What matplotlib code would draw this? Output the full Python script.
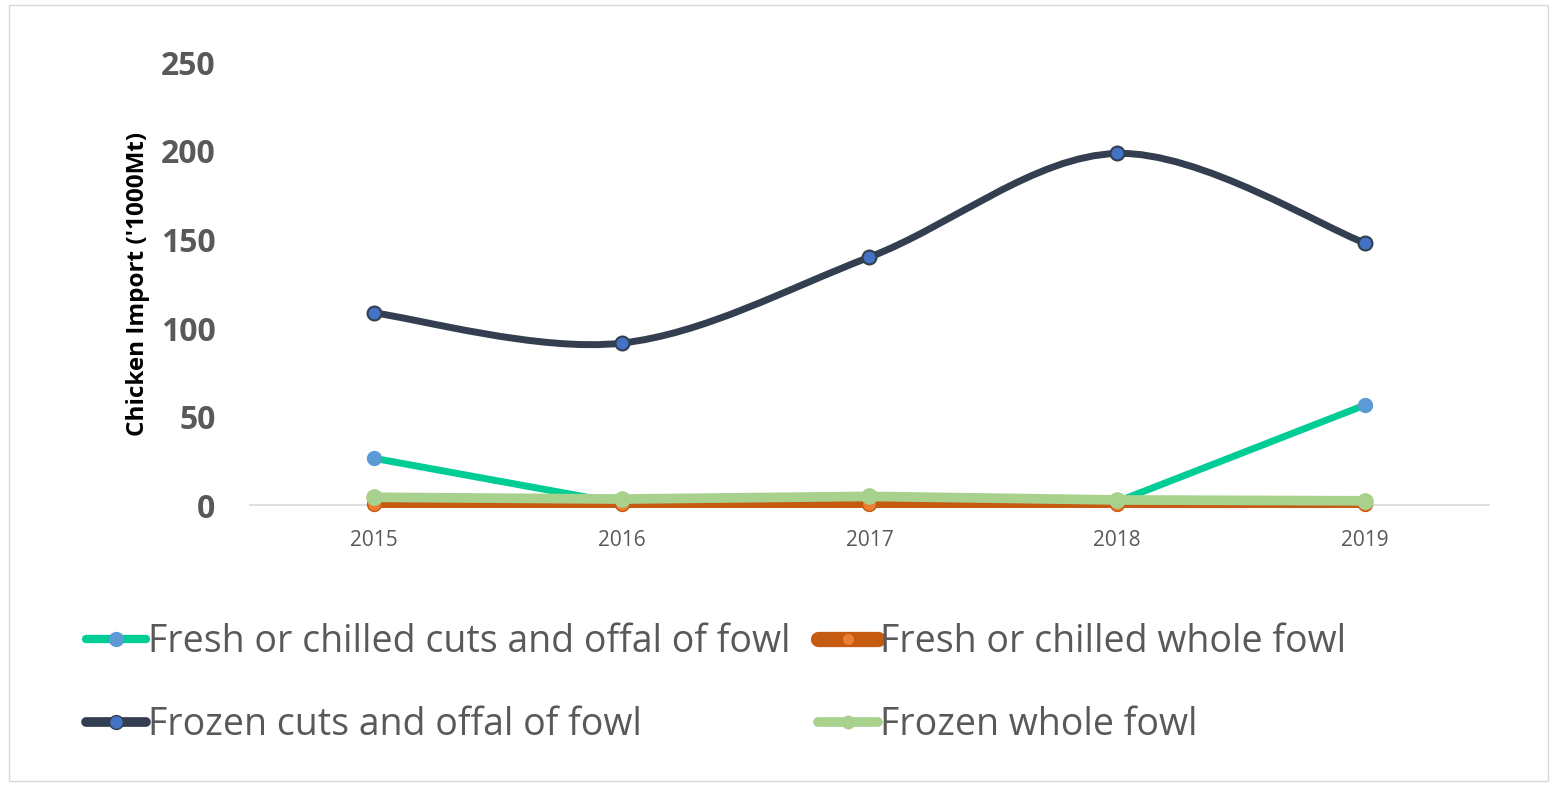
import matplotlib.pyplot as plt
from matplotlib.path import Path
from matplotlib.patches import PathPatch, Rectangle
from matplotlib.lines import Line2D

years = [2015, 2016, 2017, 2018, 2019]
fresh_cuts = [26.5, 1.0, 2.0, 2.0, 56.5]
fresh_whole = [0.5, 0.5, 0.5, 0.5, 0.5]
frozen_cuts = [108.5, 91.5, 140.0, 198.5, 148.0]
frozen_whole = [4.5, 3.5, 5.0, 3.0, 2.5]

label_fresh_cuts = "Fresh or chilled cuts and offal of fowl"
label_fresh_whole = "Fresh or chilled whole fowl"
label_frozen_cuts = "Frozen cuts and offal of fowl"
label_frozen_whole = "Frozen whole fowl"

plt.rcParams["font.family"] = ["Open Sans", "DejaVu Sans"]
grey = "#595959"

fig = plt.figure(figsize=(15.54, 7.87), dpi=100)
fig.patches.append(Rectangle((0.006, 0.008), 0.99, 0.986, transform=fig.transFigure,
                             fill=False, edgecolor="#d9d9d9", linewidth=1))
ax = fig.add_axes([0.161, 0.358, 0.797, 0.563])
x = list(range(len(years)))


def smooth_path(xs, ys):
    # cubic bezier through each point (Catmull-Rom style tangents)
    verts = [(xs[0], ys[0])]
    codes = [Path.MOVETO]
    n = len(xs)
    for i in range(n - 1):
        x0, y0 = (xs[i - 1], ys[i - 1]) if i > 0 else (xs[i], ys[i])
        x1, y1 = xs[i], ys[i]
        x2, y2 = xs[i + 1], ys[i + 1]
        x3, y3 = (xs[i + 2], ys[i + 2]) if i + 2 < n else (x2, y2)
        c1 = (x1 + (x2 - x0) / 6, y1 + (y2 - y0) / 6)
        c2 = (x2 - (x3 - x1) / 6, y2 - (y3 - y1) / 6)
        verts += [c1, c2, (x2, y2)]
        codes += [Path.CURVE4] * 3
    return Path(verts, codes)


ax.plot(x, fresh_cuts, color="#00cc96", lw=5, marker="o", ms=10,
        mfc="#5b9bd5", mec="#5b9bd5", clip_on=False, zorder=3)
ax.plot(x, fresh_whole, color="#c55a11", lw=5, marker="o", ms=10,
        mfc="#ed7d31", mec="#c55a11", clip_on=False, zorder=3)
ax.add_patch(PathPatch(smooth_path(x, frozen_cuts), fill=False,
                       edgecolor="#333f50", lw=5, zorder=3))
ax.plot(x, frozen_cuts, ls="none", marker="o", ms=10,
        mfc="#4472c4", mec="#333f50", mew=1.5, zorder=4)
ax.plot(x, frozen_whole, color="#a9d18e", lw=7, marker="o", ms=11,
        mfc="#a9d18e", mec="#a9d18e", clip_on=False, zorder=5)

ax.set_xlim(-0.5, len(years) - 0.5)
ax.set_ylim(0, 250)
ax.set_yticks([0, 50, 100, 150, 200, 250])
ax.set_xticks(x)
ax.set_xticklabels([str(y) for y in years])
ax.tick_params(axis="y", length=0, pad=25, labelsize=23, labelcolor=grey)
ax.tick_params(axis="x", length=0, pad=18, labelsize=15, labelcolor=grey)
for t in ax.get_yticklabels():
    t.set_fontweight("bold")
for s in ["top", "right", "left"]:
    ax.spines[s].set_visible(False)
ax.spines["bottom"].set_color("#d9d9d9")
ax.spines["bottom"].set_linewidth(1.2)
ax.set_ylabel("Chicken Import ('1000Mt)", fontsize=17.5, fontweight="bold",
              color="black", labelpad=8)

handles = [
    Line2D([], [], color="#00cc96", lw=6, marker="o", ms=10, mfc="#5b9bd5", mec="#5b9bd5",
           solid_capstyle="round"),
    Line2D([], [], color="#333f50", lw=7, marker="o", ms=10, mfc="#4472c4", mec="#333f50",
           solid_capstyle="round"),
    Line2D([], [], color="#c55a11", lw=11, marker="o", ms=7, mfc="#ed7d31", mec="#ed7d31",
           solid_capstyle="round"),
    Line2D([], [], color="#a9d18e", lw=7, marker="o", ms=9, mfc="#a9d18e", mec="#a9d18e",
           solid_capstyle="round"),
]
labels = [label_fresh_cuts, label_frozen_cuts, label_fresh_whole, label_frozen_whole]
leg = fig.legend(handles, labels, ncol=2, loc="upper left", bbox_to_anchor=(0.0334, 0.251),
                 frameon=False, fontsize=27, handlelength=1.6, handletextpad=0.05,
                 columnspacing=0.75, labelspacing=1.2, labelcolor=grey)

fig.savefig("out.png", dpi=100)
